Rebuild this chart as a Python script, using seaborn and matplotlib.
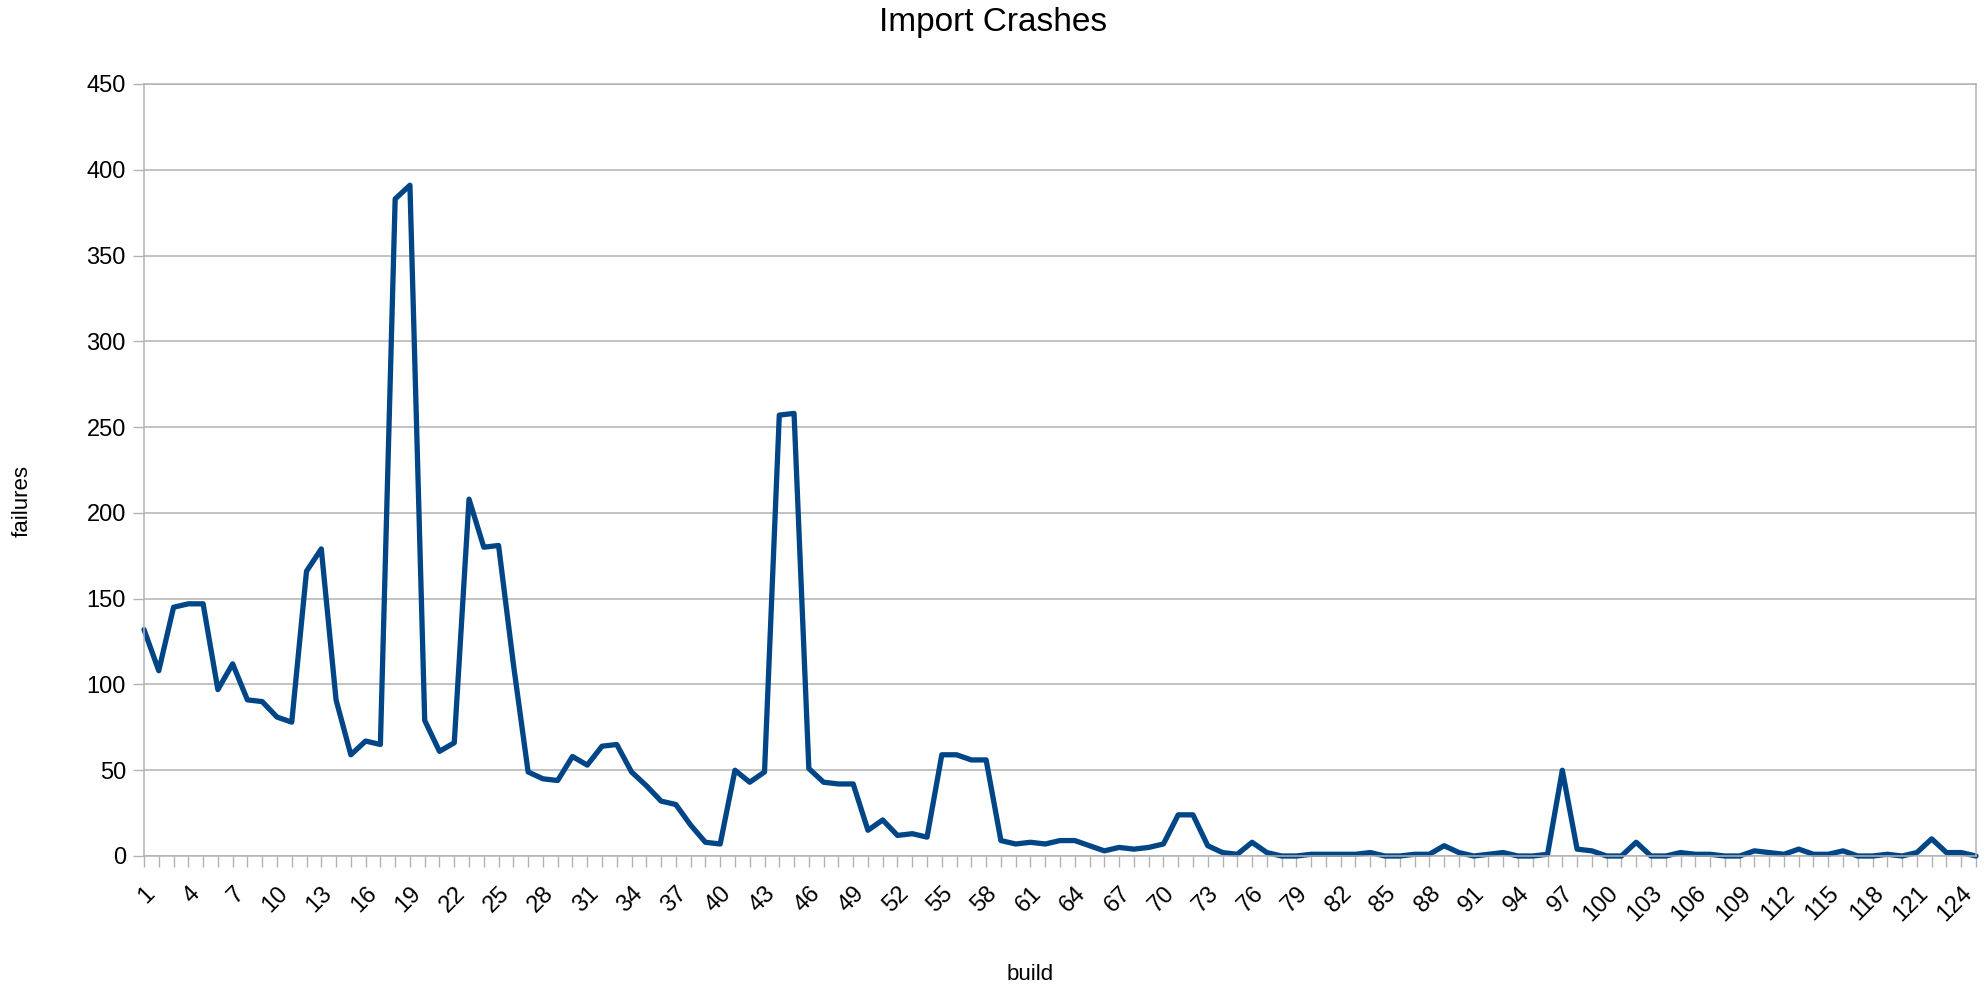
import matplotlib
matplotlib.use("Agg")
from matplotlib import pyplot as plt
from matplotlib.ticker import MultipleLocator
import pandas as pd
import seaborn as sns

# values
builds = list(range(1, 126))
failures = [
    132, 108, 145, 147, 147, 97, 112, 91, 90, 81,
    78, 166, 179, 91, 59, 67, 65, 383, 391, 79,
    61, 66, 208, 180, 181, 112, 49, 45, 44, 58,
    53, 64, 65, 49, 41, 32, 30, 18, 8, 7,
    50, 43, 49, 257, 258, 51, 43, 42, 42, 15,
    21, 12, 13, 11, 59, 59, 56, 56, 9, 7,
    8, 7, 9, 9, 6, 3, 5, 4, 5, 7,
    24, 24, 6, 2, 1, 8, 2, 0, 0, 1,
    1, 1, 1, 2, 0, 0, 1, 1, 6, 2,
    0, 1, 2, 0, 0, 1, 50, 4, 3, 0,
    0, 8, 0, 0, 2, 1, 1, 0, 0, 3,
    2, 1, 4, 1, 1, 3, 0, 0, 1, 0,
    2, 10, 2, 2, 0,
]
label_builds = list(range(1, 126, 3))

df = pd.DataFrame({"build": builds, "failures": failures})

sns.set_theme(style="white")
plt.rcParams["font.family"] = ["Liberation Sans", "DejaVu Sans"]
plt.rcParams["text.color"] = "black"
plt.rcParams["xtick.labelcolor"] = "black"
plt.rcParams["ytick.labelcolor"] = "black"

fig = plt.figure(figsize=(19.86, 9.86), dpi=100)
ax = fig.add_axes([144 / 1986, 1 - 856 / 986, (1976 - 144) / 1986, (856 - 84) / 986])

sns.lineplot(data=df, x="build", y="failures", ax=ax,
             color="#004586", linewidth=3.8, clip_on=False)

grey = "#b3b3b3"
ax.set_xlim(1, 125)
ax.set_ylim(0, 450)
ax.yaxis.set_major_locator(MultipleLocator(50))
ax.set_xticks(label_builds)
ax.set_xticklabels([str(b) for b in label_builds], rotation=45,
                   ha="right", rotation_mode="anchor", fontsize=17)
ax.xaxis.set_minor_locator(MultipleLocator(1))
ax.tick_params(axis="y", labelsize=17, length=8, width=1, color=grey,
               pad=5, left=True, labelcolor="black")
ax.tick_params(axis="x", which="both", length=8, width=1, color=grey,
               pad=11, bottom=True, labelcolor="black")
ax.grid(True, axis="y", color=grey, linewidth=1.1)
ax.set_axisbelow(True)
for side in ["left", "right", "top", "bottom"]:
    ax.spines[side].set_color(grey)
    ax.spines[side].set_linewidth(1.1)

ax.set_xlabel("")
ax.set_ylabel("")
fig.text(0.5, 1 - 22 / 986, "Import Crashes", ha="center", va="center", fontsize=24)
fig.text(1030 / 1986, 1 - 974 / 986, "build", ha="center", va="center", fontsize=16)
fig.text(22 / 1986, 1 - 501 / 986, "failures", ha="center", va="center",
         rotation=90, fontsize=16)

plt.savefig("out.png", dpi=100)
